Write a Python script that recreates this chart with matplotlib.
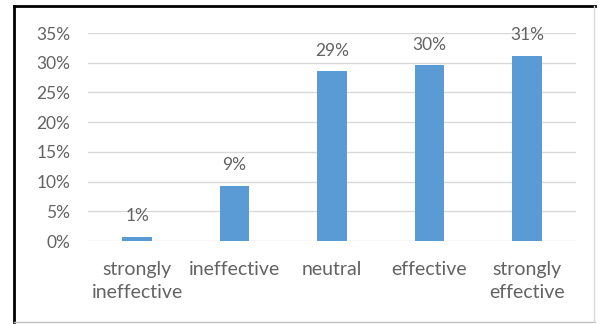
import matplotlib.pyplot as plt
from matplotlib.lines import Line2D

categories = ["strongly\nineffective", "ineffective", "neutral", "effective", "strongly\neffective"]
shares = [0.7, 9.3, 28.6, 29.6, 31.2]
y_ticks = [0, 5, 10, 15, 20, 25, 30, 35]

plt.rcParams["font.family"] = ["Lato", "DejaVu Sans"]
text_color = "#636363"
bar_color = "#5B9BD5"
grid_color = "#D9D9D9"

fig = plt.figure(figsize=(6.01, 3.24), dpi=100)
fig.patch.set_facecolor("white")
ax = fig.add_axes([0.147, 0.256, 0.811, 0.642])

xs = range(len(categories))
bars = ax.bar(xs, shares, width=0.3, color=bar_color, zorder=3)

for bar, value in zip(bars, shares):
    ax.annotate(f"{round(value):d}%", (bar.get_x() + bar.get_width() / 2, value),
                xytext=(0, 9), textcoords="offset points", ha="center", va="bottom",
                fontsize=12.5, color=text_color)

ax.set_xlim(-0.5, 4.5)
ax.set_ylim(0, 35)
ax.set_yticks(y_ticks)
ax.set_yticklabels([f"{t}%" for t in y_ticks], fontsize=12.5, color=text_color)
ax.set_xticks(list(xs))
ax.set_xticklabels(categories, fontsize=14, color=text_color, linespacing=1.45)
ax.tick_params(axis="both", length=0)
ax.tick_params(axis="x", pad=14)
ax.tick_params(axis="y", pad=13)
ax.yaxis.grid(True, color=grid_color, linewidth=1, zorder=0)
for spine in ax.spines.values():
    spine.set_visible(False)

# frame around the chart area
fig.add_artist(Line2D([0.024, 0.024], [0.005, 0.982], color="black", linewidth=2))
fig.add_artist(Line2D([0.024, 0.99], [0.982, 0.982], color="black", linewidth=2))
fig.add_artist(Line2D([0.024, 0.99], [0.005, 0.005], color="#BFBFBF", linewidth=1))
fig.add_artist(Line2D([0.988, 0.988], [0.005, 0.982], color="#D9D9D9", linewidth=1))

fig.savefig("out.png", dpi=100)
